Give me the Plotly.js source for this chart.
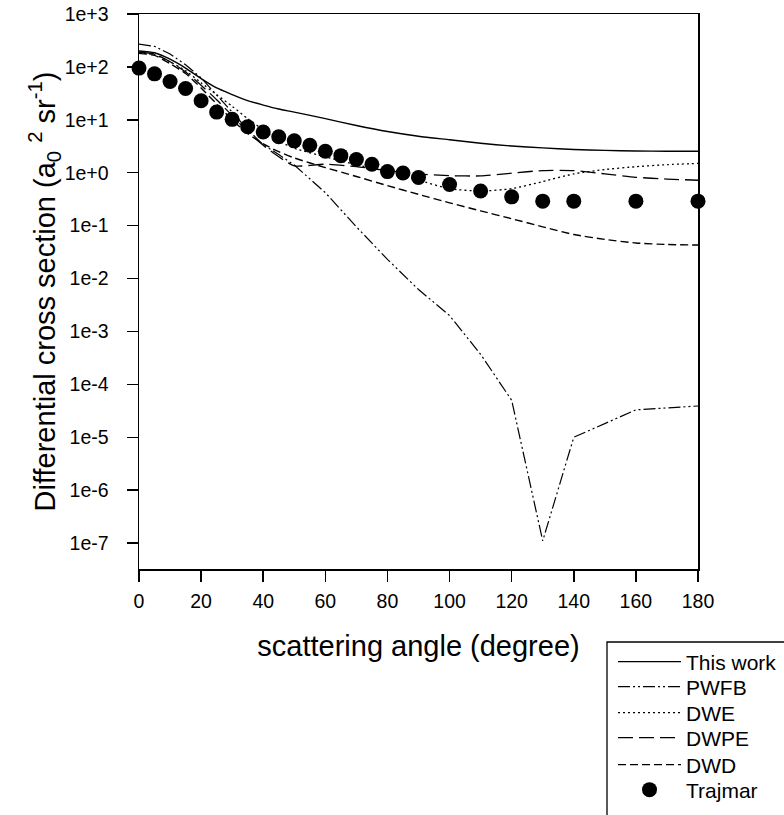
<!DOCTYPE html>
<html>
<head>
<meta charset="utf-8">
<script src="https://cdn.plot.ly/plotly-3.0.1.min.js"></script>
<style>html,body{margin:0;padding:0;background:#fff;}#chart{width:784px;height:815px;}</style>
</head>
<body>
<div id="chart"></div>
<script>
// Angles (degree) for calculated curves
var thetaCalc = [0,5,10,15,20,25,30,35,40,45,50,60,70,80,90,100,110,120,130,140,150,160,170,180];
var thisWork = [200,185,140,95,60,40,30,23,19,16,14,10.5,7.8,6.0,4.9,4.2,3.6,3.2,2.95,2.75,2.65,2.57,2.55,2.55];
var dwe  = [185,170,125,85,50,30,18,10.5,6.5,4.0,2.9,2.0,1.42,1.05,0.72,0.5,0.45,0.5,0.68,0.95,1.15,1.3,1.42,1.5];
var dwpe = [190,175,125,80,45,24,12,6,3.3,2.0,1.35,1.45,1.3,1.1,0.95,0.88,0.87,0.98,1.1,1.1,0.95,0.82,0.76,0.72];
var dwd  = [180,165,115,75,40,20,10,5.5,3.5,2.5,1.9,1.25,0.85,0.57,0.39,0.27,0.19,0.135,0.095,0.068,0.055,0.047,0.044,0.043];

// PWFB
var thetaPWFB = [0,5,10,15,20,25,30,35,40,45,50,60,70,80,90,100,110,120,130,140,160,180];
var pwfb = [270,245,175,110,62,30,14,6.5,3.4,2.2,1.4,0.42,0.095,0.023,0.0062,0.002,3.7e-4,5e-5,1.1e-7,1e-5,3.3e-5,3.9e-5];

// Trajmar experiment
var thetaExp = [0,5,10,15,20,25,30,35,40,45,50,55,60,65,70,75,80,85,90,100,110,120,130,140,160,180];
var trajmar = [95,74,53,39,23,14,10.2,7.4,5.9,4.8,4.0,3.3,2.55,2.1,1.78,1.45,1.05,0.99,0.81,0.6,0.45,0.35,0.29,0.29,0.29,0.29];

// Axis ticks
var xTicks = [0,20,40,60,80,100,120,140,160,180];
var yTickVals = [1e-7,1e-6,1e-5,1e-4,1e-3,1e-2,1e-1,1,10,100,1000];
var yTickText = ['1e-7','1e-6','1e-5','1e-4','1e-3','1e-2','1e-1','1e+0','1e+1','1e+2','1e+3'];

var FONT = 'Liberation Sans, Arial, sans-serif';

var traces = [
  {x: thetaCalc, y: thisWork, name: 'This work', legend: 'legend', mode: 'lines', line: {color: '#000', width: 1.4, shape: 'spline', smoothing: 0.6}},
  {x: thetaPWFB, y: pwfb, name: 'PWFB', legend: 'legend2', mode: 'lines', line: {color: '#000', width: 1.2, dash: '12px,3px,2px,3px,2px,3px'}},
  {x: thetaCalc, y: dwe, name: 'DWE', legend: 'legend3', mode: 'lines', line: {color: '#000', width: 1.3, dash: '2px,3px', shape: 'spline', smoothing: 0.6}},
  {x: thetaCalc, y: dwpe, name: 'DWPE', legend: 'legend4', mode: 'lines', line: {color: '#000', width: 1.3, dash: '15px,6px', shape: 'spline', smoothing: 0.6}},
  {x: thetaCalc, y: dwd, name: 'DWD', legend: 'legend5', mode: 'lines', line: {color: '#000', width: 1.4, dash: '8px,4px', shape: 'spline', smoothing: 0.6}},
  {x: thetaExp, y: trajmar, name: 'Trajmar', legend: 'legend6', mode: 'markers', marker: {color: '#000', size: 15, symbol: 'circle'}, cliponaxis: false}
];

// plot area: left 139, width 559, top 14, bottom 569 (height 555)
var PL = 139, PW = 559, PB = 569, PH = 555;
function px2paperX(p) { return (p - PL) / PW; }
function px2paperY(p) { return (PB - p) / PH; }

function legendAt(rowY) {
  return {
    x: px2paperX(613), y: px2paperY(rowY), xanchor: 'left', yanchor: 'middle',
    bgcolor: 'rgba(0,0,0,0)', borderwidth: 0,
    font: {family: FONT, size: 21, color: '#000'},
    itemwidth: 63
  };
}

var layout = {
  width: 784, height: 815,
  margin: {l: 139, r: 86, t: 14, b: 246, autoexpand: false},
  paper_bgcolor: '#fff', plot_bgcolor: '#fff',
  font: {family: FONT, color: '#000'},
  showlegend: true,
  legend: legendAt(662),
  legend2: legendAt(687),
  legend3: legendAt(713),
  legend4: legendAt(738),
  legend5: legendAt(765),
  legend6: legendAt(790),
  xaxis: {
    range: [0, 180], tickvals: xTicks, ticktext: xTicks.map(String),
    showline: true, mirror: true, linecolor: '#000', linewidth: 1.5,
    ticks: 'outside', ticklen: 11, tickwidth: 1.5, tickcolor: '#000',
    showgrid: false, zeroline: false,
    tickfont: {family: FONT, size: 19.5, color: '#000'},
    ticklabelstandoff: 3,
    title: {text: 'scattering angle (degree)', font: {family: FONT, size: 29, color: '#000'}, standoff: 25}
  },
  yaxis: {
    type: 'log', range: [-7.49, 3],
    tickvals: yTickVals, ticktext: yTickText,
    showline: true, mirror: true, linecolor: '#000', linewidth: 1.5,
    ticks: 'outside', ticklen: 11, tickwidth: 1.5, tickcolor: '#000',
    showgrid: false, zeroline: false,
    tickfont: {family: FONT, size: 19.5, color: '#000'},
    ticklabelstandoff: 14,
    title: {text: 'Differential cross section (a<sub>0</sub> <sup>2</sup> sr<sup>-1</sup>)', font: {family: FONT, size: 29, color: '#000'}, standoff: 0}
  },
  shapes: [
    {type: 'rect', xref: 'paper', yref: 'paper', x0: px2paperX(607), x1: 1.3, y0: -0.6, y1: px2paperY(642),
     line: {color: '#000', width: 1.3}, fillcolor: 'rgba(0,0,0,0)'}
  ]
};

Plotly.newPlot('chart', traces, layout, {displayModeBar: false, staticPlot: true});
</script>
</body>
</html>
